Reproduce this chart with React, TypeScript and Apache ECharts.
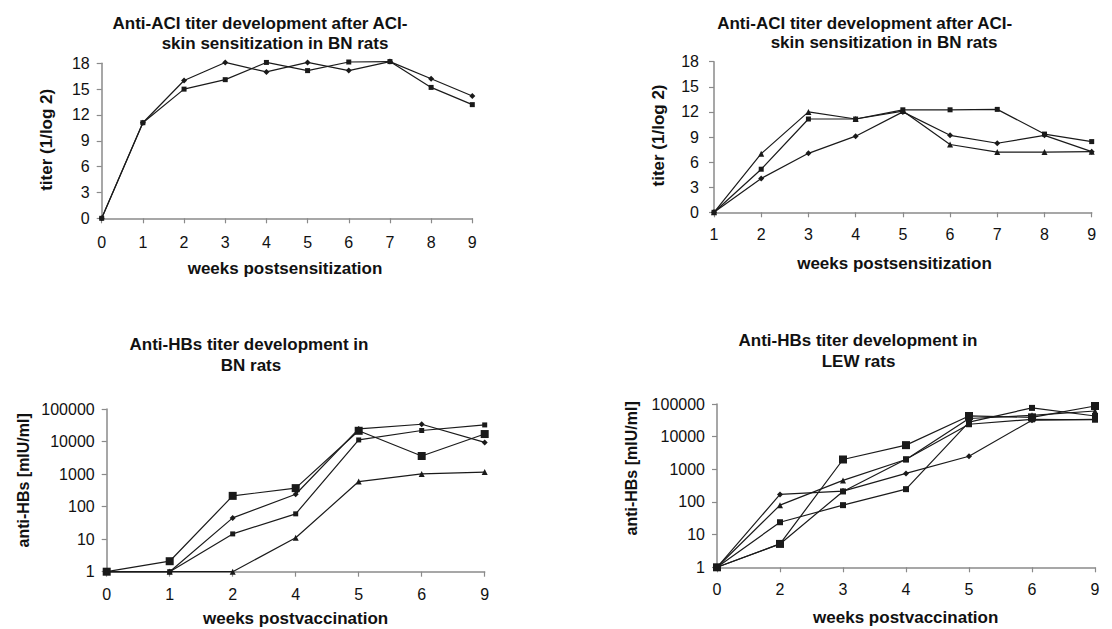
import React, { useEffect, useRef } from "react";
import * as echarts from "echarts";

// ---------- data ----------
const p1Weeks = [0, 1, 2, 3, 4, 5, 6, 7, 8, 9];
const p1SeriesA = [0, 11.1, 16.0, 18.1, 17.0, 18.1, 17.15, 18.2, 16.2, 14.2];
const p1SeriesB = [0, 11.1, 15.0, 16.1, 18.1, 17.15, 18.15, 18.2, 15.2, 13.2];

const p2Weeks = [1, 2, 3, 4, 5, 6, 7, 8, 9];
const p2Triangle = [0, 7.0, 12.0, 11.15, 12.1, 8.1, 7.2, 7.2, 7.25];
const p2Square = [0, 5.15, 11.15, 11.15, 12.25, 12.25, 12.3, 9.35, 8.45];
const p2Diamond = [0, 4.05, 7.05, 9.1, 12.0, 9.2, 8.25, 9.2, 7.25];

const p3Weeks = ["0", "1", "2", "4", "5", "6", "9"];
const p3BigSquare = [1, 2.1, 214, 370, 21400, 3600, 17000];
const p3Diamond = [1, 1, 45, 240, 24500, 34000, 9400];
const p3SmallSquare = [1, 1, 14.5, 60, 11200, 21800, 32400];
const p3Triangle = [1, 1, 1, 11, 590, 1010, 1150];

const p4Weeks = ["0", "2", "3", "4", "5", "6", "9"];
const p4Diamond = [1, 170, 215, 750, 2520, 32000, 34000];
const p4Triangle = [1, 80, 457, 2000, 36000, 45000, 61000];
const p4SmallSquare = [1, 24, 80, 247, 28000, 76000, 43000];
const p4BigSquare = [1, 5.2, 2000, 5500, 43000, 39000, 87000];
const p4Square = [1, 5.2, 210, 2040, 24000, 34000, 33000];

const titleACI = ["Anti-ACI titer development after ACI-", "skin sensitization in BN rats"];
const titleBN = ["Anti-HBs titer development in", "BN rats"];
const titleLEW = ["Anti-HBs titer development in", "LEW rats"];
const yNameTiter = "titer (1/log 2)";
const yNameHBs = "anti-HBs [mIU/ml]";
const xNameSens = "weeks postsensitization";
const xNameVacc = "weeks postvaccination";

// ---------- styling ----------
const FONT = '"Liberation Sans", Arial, Helvetica, sans-serif';
const INK = "#1a1a1a";
const AXIS = "#8a8a8a";

function axisStyle(margin: number) {
  return {
    axisLine: { show: true, onZero: false, lineStyle: { color: AXIS, width: 1.5 } },
    axisTick: { show: true, length: 5, lineStyle: { color: AXIS, width: 1.2 } },
    axisLabel: { color: "#111", fontSize: 16, fontFamily: FONT, margin },
    splitLine: { show: false },
  };
}

function line(xi: number, data: any[], symbol: string, size: number) {
  return {
    type: "line",
    xAxisIndex: xi,
    yAxisIndex: xi,
    data,
    symbol,
    symbolSize: size,
    showAllSymbol: true,
    clip: false,
    lineStyle: { color: INK, width: 1.2 },
    itemStyle: { color: INK },
    emphasis: { disabled: true },
  };
}

function txt(text: string, x: number, y: number, size: number, rotate = false) {
  return {
    type: "text",
    x,
    y,
    rotation: rotate ? Math.PI / 2 : 0,
    style: {
      text,
      fill: "#111",
      fontSize: size,
      fontWeight: "bold",
      fontFamily: FONT,
      align: "center",
      verticalAlign: "middle",
    },
  };
}

const logFmt = (v: number) => String(Math.round(v));

export default function App() {
  const ref = useRef<HTMLDivElement>(null);

  useEffect(() => {
    if (!ref.current) return;
    const chart = echarts.init(ref.current, undefined, { renderer: "svg" });

    const option: any = {
      animation: false,
      backgroundColor: "#ffffff",
      grid: [
        { left: 101.7, top: 63.3, width: 370.6, height: 155 },
        { left: 714, top: 61.7, width: 377.7, height: 150.6 },
        { left: 106.7, top: 409, width: 378, height: 162.7 },
        { left: 717, top: 404, width: 378, height: 163.3 },
      ],
      xAxis: [
        { type: "value", gridIndex: 0, min: 0, max: 9, interval: 1, ...axisStyle(16) },
        { type: "value", gridIndex: 1, min: 1, max: 9, interval: 1, ...axisStyle(14) },
        { type: "category", gridIndex: 2, data: p3Weeks, boundaryGap: false, ...axisStyle(15) },
        { type: "category", gridIndex: 3, data: p4Weeks, boundaryGap: false, ...axisStyle(14) },
      ],
      yAxis: [
        { type: "value", gridIndex: 0, min: 0, max: 18, interval: 3, ...axisStyle(12) },
        { type: "value", gridIndex: 1, min: 0, max: 18, interval: 3, ...axisStyle(15) },
        (() => {
          const s: any = axisStyle(12);
          return { type: "log", logBase: 10, gridIndex: 2, min: 1, max: 100000, ...s, axisLabel: { ...s.axisLabel, formatter: logFmt } };
        })(),
        (() => {
          const s: any = axisStyle(12);
          return { type: "log", logBase: 10, gridIndex: 3, min: 1, max: 100000, ...s, axisLabel: { ...s.axisLabel, formatter: logFmt } };
        })(),
      ],
      series: [
        line(0, p1Weeks.map((w, i) => [w, p1SeriesA[i]]), "diamond", 6),
        line(0, p1Weeks.map((w, i) => [w, p1SeriesB[i]]), "rect", 5),

        line(1, p2Weeks.map((w, i) => [w, p2Triangle[i]]), "triangle", 6),
        line(1, p2Weeks.map((w, i) => [w, p2Square[i]]), "rect", 5),
        line(1, p2Weeks.map((w, i) => [w, p2Diamond[i]]), "diamond", 6),

        line(2, p3BigSquare, "rect", 8),
        line(2, p3Diamond, "diamond", 6),
        line(2, p3SmallSquare, "rect", 5),
        line(2, p3Triangle, "triangle", 6),

        line(3, p4Diamond, "diamond", 6),
        line(3, p4Triangle, "triangle", 6),
        line(3, p4SmallSquare, "rect", 6),
        line(3, p4BigSquare, "rect", 8),
        line(3, p4Square, "rect", 6),
      ],
      graphic: [
        txt(titleACI[0], 260, 23.4, 17),
        txt(titleACI[1], 275, 43.3, 17),
        txt(yNameTiter, 46.7, 139.8, 17, true),
        txt(xNameSens, 285, 268.8, 17),

        txt(titleACI[0], 864.7, 23.8, 17),
        txt(titleACI[1], 884, 42.6, 17),
        txt(yNameTiter, 658, 135.5, 17, true),
        txt(xNameSens, 894.5, 263, 17),

        txt(titleBN[0], 249, 344.8, 17),
        txt(titleBN[1], 251, 365, 17),
        txt(yNameHBs, 23.4, 480.3, 16, true),
        txt(xNameVacc, 295.6, 618, 17),

        txt(titleLEW[0], 858, 340, 17),
        txt(titleLEW[1], 858.5, 361, 17),
        txt(yNameHBs, 631.4, 468.4, 16, true),
        txt(xNameVacc, 905.7, 617, 17),
      ],
    };

    chart.setOption(option);
    return () => chart.dispose();
  }, []);

  return (
    <div
      ref={ref}
      style={{ position: "fixed", left: 0, top: 0, width: 1112, height: 629, background: "#fff" }}
    />
  );
}
